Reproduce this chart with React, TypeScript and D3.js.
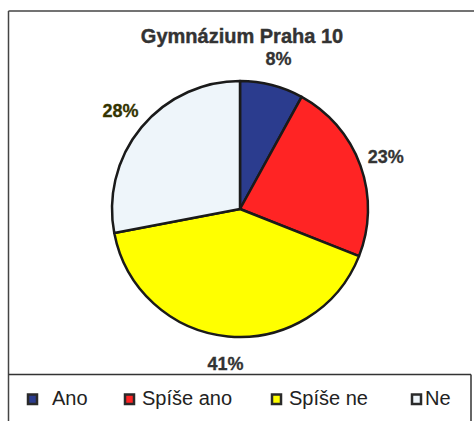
import React from "react";
import * as d3 from "d3";

const title = "Gymnázium Praha 10";
const categories = ["Ano", "Spíše ano", "Spíše ne", "Ne"];
const values = [8, 23, 41, 28];
const colors = ["#2b3c8e", "#ff2424", "#ffff00", "#eef5fa"];
const labelColors = ["#333333", "#333333", "#333333", "#333300"];
const legendX = [27, 124, 271, 411];

const W = 474;
const H = 421;
const cx = 240;
const cy = 209;
const R = 128;
const font = "'Liberation Sans', Arial, sans-serif";

export default function App() {
  const pie = d3.pie<number>().sort(null).value((d) => d);
  const arcs = pie(values);
  const arc = d3.arc<d3.PieArcDatum<number>>().innerRadius(0).outerRadius(R);
  const labelArc = d3.arc<d3.PieArcDatum<number>>().innerRadius(155).outerRadius(155);
  const total = d3.sum(values);

  return (
    <svg
      width={W}
      height={H}
      style={{ position: "absolute", left: 0, top: 0, background: "#fff" }}
      fontFamily={font}
    >
      {/* chart frame */}
      <line x1={8.5} y1={11} x2={W} y2={11} stroke="#444" strokeWidth={1.5} />
      <line x1={8.5} y1={11} x2={8.5} y2={H} stroke="#444" strokeWidth={1.5} />
      {/* legend box */}
      <line x1={8.5} y1={374.5} x2={471} y2={374.5} stroke="#333" strokeWidth={1.5} />
      <line x1={471} y1={374.5} x2={471} y2={H} stroke="#333" strokeWidth={1.5} />

      <text x={cx + 2} y={43} textAnchor="middle" fontWeight="bold" fontSize={20} fill="#333" stroke="#333" strokeWidth={0.4}>
        {title}
      </text>

      <g transform={`translate(${cx},${cy})`}>
        {arcs.map((a, i) => (
          <path key={i} d={arc(a) || ""} fill={colors[i]} stroke="#1a1a1a" strokeWidth={2.5} strokeLinejoin="round" />
        ))}
        {arcs.map((a, i) => {
          const [x, y] = labelArc.centroid(a);
          return (
            <text
              key={i}
              x={x}
              y={y}
              dy="0.36em"
              textAnchor="middle"
              fontWeight="bold"
              fontSize={18}
              fill={labelColors[i]}
              stroke={labelColors[i]}
              strokeWidth={0.3}
            >
              {Math.round((values[i] / total) * 100)}%
            </text>
          );
        })}
      </g>

      {categories.map((c, i) => (
        <g key={c}>
          <rect x={legendX[i] + 1} y={394.5} width={9} height={9.5} fill={colors[i]} stroke="#2a2a2a" strokeWidth={2.5} />
          <text x={legendX[i] + (i === 3 ? 14 : i === 0 ? 25 : 18)} y={405} fontSize={20} fill="#222">
            {c}
          </text>
        </g>
      ))}
    </svg>
  );
}
